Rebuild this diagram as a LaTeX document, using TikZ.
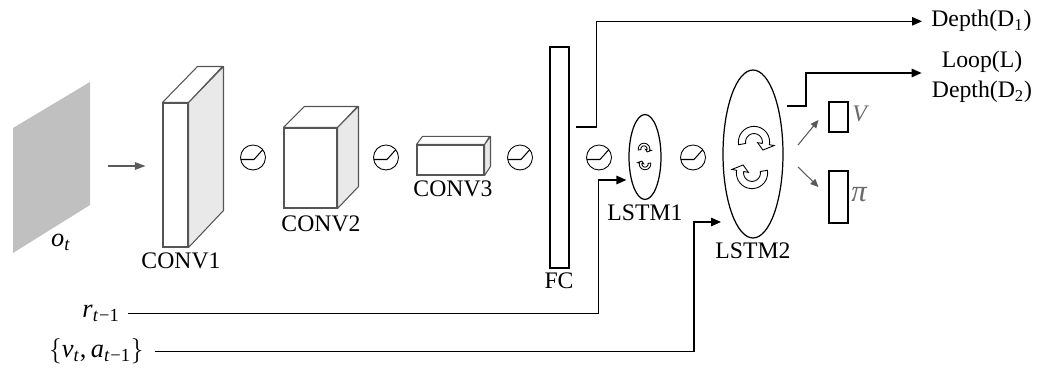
\documentclass[tikz,border=0pt]{standalone}
\usepackage{fontspec}
\setmainfont{Liberation Serif}
\usepackage{tikz}
\usetikzlibrary{
  arrows.meta,
  positioning,
  calc,
  shapes.geometric
}
\definecolor{BoxGray}{RGB}{85,85,85}
\definecolor{SideGray}{RGB}{233,233,233}
\definecolor{ImageGray}{RGB}{192,192,192}
\definecolor{ArrowGray}{RGB}{90,90,90}
\definecolor{LabelGray}{RGB}{105,105,105}
\tikzset{
  convface/.style={draw=BoxGray,fill=white,line width=0.6pt,inner sep=0pt},
  convside/.style={draw=BoxGray,fill=SideGray,line width=0.6pt,line join=round},
  convtop/.style={draw=BoxGray,fill=white,line width=0.6pt,line join=round},
  fcnode/.style={draw=black,line width=0.6pt,inner sep=0pt,minimum width=0.38cm,minimum height=4.42cm},
  lstmnode/.style={ellipse,draw=black,line width=0.7pt,inner sep=0pt},
  outnode/.style={draw=black,line width=0.6pt,inner sep=0pt,minimum width=0.38cm},
  gaugenode/.style={circle,draw=black,line width=0.5pt,minimum size=0.5cm,inner sep=0pt},
  gaugeline/.style={line width=0.6pt,line join=round},
  cyclestyle/.style={draw=black,fill=white,line width=0.5pt},
  textlabel/.style={inner sep=0pt},
  mathlabel/.style={inner sep=0pt,font=\fontsize{15}{17}\selectfont},
  linkarrow/.style={-{Triangle[length=2mm,width=1.7mm]},line width=0.8pt,draw=black},
  flowarrow/.style={-{Triangle[length=2.1mm,width=1.5mm]},line width=0.6pt,draw=ArrowGray},
  headarrow/.style={-{Triangle[length=1.6mm,width=1.4mm]},line width=0.6pt,draw=ArrowGray}
}
% #1 centre, #2 radius in px, #3 start angle
\newcommand{\cyclearrow}[3]{%
  \begin{scope}[shift={#1},yscale=-1]
    \draw[cyclestyle] plot[domain=#3:#3-200,samples=30] (\x:{#2*1.3})
      -- ({#3-200}:{#2*1.7}) -- ({#3-232}:{#2}) -- ({#3-200}:{#2*0.3})
      -- plot[domain=#3-200:#3,samples=30] (\x:{#2*0.7}) -- cycle;
  \end{scope}}
\newcommand{\itsub}[2]{\textit{#1}\textsubscript{\textit{#2}}}

\begin{document}
\begin{tikzpicture}[x=0.02cm,y=-0.02cm,font=\fontsize{13.5}{17}\selectfont]
\useasboundingbox (0,0) rectangle (1045,374);

\fill[ImageGray] (13,128) -- (90,82) -- (90,205) -- (13,253) -- cycle;
\coordinate (ot) at (90,166);
\node[mathlabel, anchor=base] (otlabel) at (61,247) {\itsub{o}{t}};

\node[convface, minimum width=0.5cm, minimum height=2.88cm] (conv1) at (175.5,175) {};
\draw[convside] (conv1.north east) -- ++(35,-36) -- ++(0,144) -- (conv1.south east) -- cycle;
\draw[convtop] (conv1.north west) -- ++(35,-36) -- ++(25,0) -- (conv1.north east) -- cycle;
\node[textlabel] (conv1label) at (181,261) {CONV1};

\node[convface, minimum width=1.06cm, minimum height=1.6cm] (conv2) at (310.5,168) {};
\draw[convside] (conv2.north east) -- ++(21,-21) -- ++(0,80) -- (conv2.south east) -- cycle;
\draw[convtop] (conv2.north west) -- ++(21,-21) -- ++(53,0) -- (conv2.north east) -- cycle;
\node[textlabel] (conv2label) at (321,224) {CONV2};

\node[convface, minimum width=1.34cm, minimum height=0.6cm] (conv3) at (450.5,160) {};
\draw[convside] (conv3.north east) -- ++(6,-8) -- ++(0,30) -- (conv3.south east) -- cycle;
\draw[convtop] (conv3.north west) -- ++(6,-8) -- ++(67,0) -- (conv3.north east) -- cycle;
\node[textlabel] (conv3label) at (453,189) {CONV3};

\node[fcnode] (fc) at (559.5,157.5) {};
\node[textlabel] (fclabel) at (559,281) {FC};

\node[lstmnode, minimum width=0.64cm, minimum height=1.7cm] (lstm1) at (645,157) {};
\cyclearrow{(644,149)}{4.4}{190}
\cyclearrow{(645,164)}{4.4}{10}
\node[textlabel] (lstm1label) at (645,213) {LSTM1};

\node[lstmnode, minimum width=1.2cm, minimum height=3.36cm] (lstm2) at (753,154) {};
\cyclearrow{(754,142)}{12}{190}
\cyclearrow{(752,173)}{12}{10}
\node[textlabel] (lstm2label) at (753,251) {LSTM2};

\foreach \gx [count=\i] in {253,386,520,599,693} {
  \node[gaugenode] (g\i) at (\gx,157.5) {};
  \draw[gaugeline] ($(g\i.center)+(-12.5,2)$) -- ++(13.5,0) -- ++(8.5,-9.5);
}

\node[outnode, minimum height=0.6cm] (vbox) at (838.5,117) {};
\node[outnode, minimum height=1.04cm] (pibox) at (838.5,197) {};
\node[textlabel, anchor=base west, text=LabelGray] (vlabel) at (852,122) {\textit{V}};
\node[mathlabel, anchor=base west, text=LabelGray, font=\fontsize{17.5}{20}\selectfont] (pilabel) at (851,202) {\textit{π}};

\node[textlabel, anchor=base west] (d1) at (931,27) {Depth(D\textsubscript{1})};
\node[textlabel, align=center] (loop) at (982,77) {Loop(L)\\Depth(D\textsubscript{2})};

\node[mathlabel, anchor=base east] (rt) at (120,318) {\itsub{r}{t}\textsubscript{−1}};
\node[mathlabel, anchor=base east] (va) at (144,358) {$\left\{\hbox{\itsub{v}{t},\thinspace\itsub{a}{t}\textsubscript{−1}}\right\}$};
\coordinate (lstm1in) at ($(lstm1.west)+(-2,23)$);
\coordinate (lstm2in) at ($(lstm2.center)+(-32,68)$);

\draw[flowarrow] ($(ot)+(18,0)$) -- ($(conv1.west)+(-17,-9)$);
\draw[linkarrow] ($(fc.east)+(6,-30.5)$) -- ++(21,0) |- ([xshift=-0.18cm]d1.west);
\draw[linkarrow] ($(lstm2.center)+(34,-48)$) -- ++(19,0) |- ([xshift=-0.2cm,yshift=0.08cm]loop.west);
\draw[linkarrow] ([xshift=0.16cm]rt.east) -| ($(lstm1in)+(-28,0)$) -- (lstm1in);
\draw[linkarrow] ([xshift=0.22cm]va.east) -| ($(lstm2in)+(-27,0)$) -- (lstm2in);
\draw[headarrow] ($(lstm2.center)+(45,-9)$) -- ($(vbox.west)+(-10,3)$);
\draw[headarrow] ($(lstm2.center)+(45,13)$) -- ($(pibox.west)+(-10,-10)$);
\end{tikzpicture}
\end{document}
